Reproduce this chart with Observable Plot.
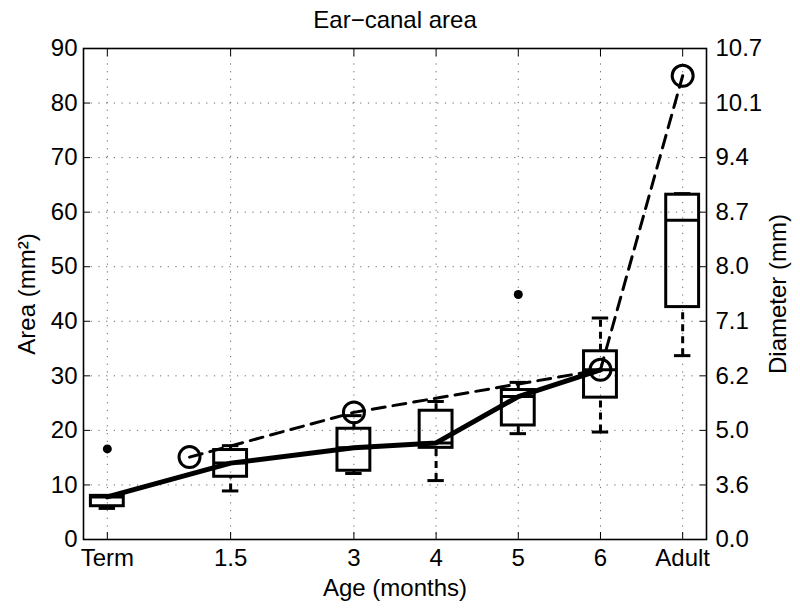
<!DOCTYPE html>
<html><head><meta charset="utf-8">
<script src="https://cdn.jsdelivr.net/npm/d3@7"></script>
<script src="https://cdn.jsdelivr.net/npm/@observablehq/plot@0.6"></script>
<style>body{margin:0;background:#fff} svg{display:block}</style>
</head><body><div id="chart"></div>
<script>
// Age groups (x positions in months, Adult placed after 6)
const positions = [0, 1.5, 3, 4, 5, 6, 7];
const ageLabels = ["Term", "1.5", "3", "4", "5", "6", "Adult"];
// Box plot statistics (area, mm^2)
const whiskerLow = [5.7, 8.9, 12.1, 10.8, 19.4, 19.7, 33.7];
const quart1     = [6.1, 11.5, 12.6, 16.8, 20.9, 26.0, 42.6];
const median     = [7.8, 14.0, 16.8, 17.7, 26.2, 31.1, 58.5];
const quart3     = [8.0, 16.4, 20.3, 23.6, 27.4, 34.5, 63.2];
const whiskerHigh= [8.0, 17.2, 22.7, 25.3, 28.8, 40.6, 63.4];
// Outliers
const outlierX = [0, 5];
const outlierY = [16.6, 44.9];
// Open-circle reference series (dashed line)
const refX = [1, 3, 6, 7];
const refY = [15.1, 23.3, 31.1, 85.0];
// Axis ticks
const areaTicks = [0, 10, 20, 30, 40, 50, 60, 70, 80, 90];
const diameterLabels = ["0.0", "3.6", "5.0", "6.2", "7.1", "8.0", "8.7", "9.4", "10.1", "10.7"];

const groups = positions.map((p, i) => ({
  pos: p, lo: whiskerLow[i], q1: quart1[i], med: median[i], q3: quart3[i], hi: whiskerHigh[i]
}));
const infant = groups.slice(0, 6);
const outliers = outlierX.map((x, i) => ({x, y: outlierY[i]}));
const refs = refX.map((x, i) => ({x, y: refY[i]}));

const hw = 0.2, cw = 0.1, lw = 3, fs = 24;

const chart = Plot.plot({
  width: 800, height: 613,
  marginLeft: 83, marginRight: 94, marginTop: 48, marginBottom: 74,
  style: {fontFamily: "'Liberation Sans', Arial, Helvetica, sans-serif", fontSize: fs + "px", color: "#000", background: "#fff", overflow: "visible"},
  x: {domain: [-0.29, 7.29]},
  y: {domain: [0, 90]},
  marks: [
    // dotted grid
    Plot.ruleX(positions, {x: d => d, stroke: "#000", strokeOpacity: 0.6, strokeDasharray: "1.2,6.5"}),
    Plot.ruleY(areaTicks.slice(1, -1), {y: d => d, stroke: "#000", strokeOpacity: 0.6, strokeDasharray: "1.2,6.5"}),
    // axes
    Plot.axisX(positions, {anchor: "bottom", tickSize: -7, tickPadding: 16, tickFormat: d => ageLabels[positions.indexOf(d)], label: null, fontSize: fs}),
    Plot.axisX(positions, {anchor: "top", tickSize: -7, tickFormat: () => "", label: null}),
    Plot.axisY(areaTicks, {anchor: "left", tickSize: -7, tickPadding: 13, tickFormat: d => String(d), label: null, fontSize: fs}),
    Plot.axisY(areaTicks, {anchor: "right", tickSize: -7, tickPadding: 16, tickFormat: d => diameterLabels[areaTicks.indexOf(d)], label: null, fontSize: fs}),
    Plot.frame({stroke: "#000", strokeWidth: 1.6}),
    // lines
    Plot.line(infant, {x: "pos", y: "med", stroke: "#000", strokeWidth: 5}),
    Plot.line(refs, {x: "x", y: "y", stroke: "#000", strokeWidth: 3, strokeDasharray: "13,8"}),
    // whiskers
    Plot.ruleX(groups, {x: "pos", y1: "q3", y2: "hi", stroke: "#000", strokeWidth: lw, strokeDasharray: "7,5"}),
    Plot.ruleX(groups, {x: "pos", y1: "lo", y2: "q1", stroke: "#000", strokeWidth: lw, strokeDasharray: "7,5"}),
    Plot.ruleY(groups, {x1: d => d.pos - cw, x2: d => d.pos + cw, y: "hi", stroke: "#000", strokeWidth: lw}),
    Plot.ruleY(groups, {x1: d => d.pos - cw, x2: d => d.pos + cw, y: "lo", stroke: "#000", strokeWidth: lw}),
    // boxes
    Plot.rect(groups, {x1: d => d.pos - hw, x2: d => d.pos + hw, y1: "q1", y2: "q3", fill: "none", stroke: "#000", strokeWidth: lw}),
    Plot.ruleY(groups, {x1: d => d.pos - hw, x2: d => d.pos + hw, y: "med", stroke: "#000", strokeWidth: lw}),
    // points
    Plot.dot(outliers, {x: "x", y: "y", r: 4.5, fill: "#000", stroke: "none"}),
    Plot.dot(refs, {x: "x", y: "y", r: 10.5, fill: "none", stroke: "#000", strokeWidth: lw}),
    // titles
    Plot.text(["Ear\u2212canal area"], {frameAnchor: "top", lineAnchor: "middle", dy: -28, fontSize: 24, fill: "#000"}),
    Plot.text(["Age (months)"], {frameAnchor: "bottom", lineAnchor: "middle", dy: 49, fontSize: fs, fill: "#000"}),
    Plot.text(["Area (mm\u00B2)"], {frameAnchor: "left", lineAnchor: "middle", textAnchor: "middle", dx: -56, rotate: -90, fontSize: fs, fill: "#000"}),
    Plot.text(["Diameter (mm)"], {frameAnchor: "right", lineAnchor: "middle", textAnchor: "middle", dx: 72, rotate: -90, fontSize: fs, fill: "#000"})
  ]
});
document.getElementById("chart").appendChild(chart);
</script>
</body></html>
